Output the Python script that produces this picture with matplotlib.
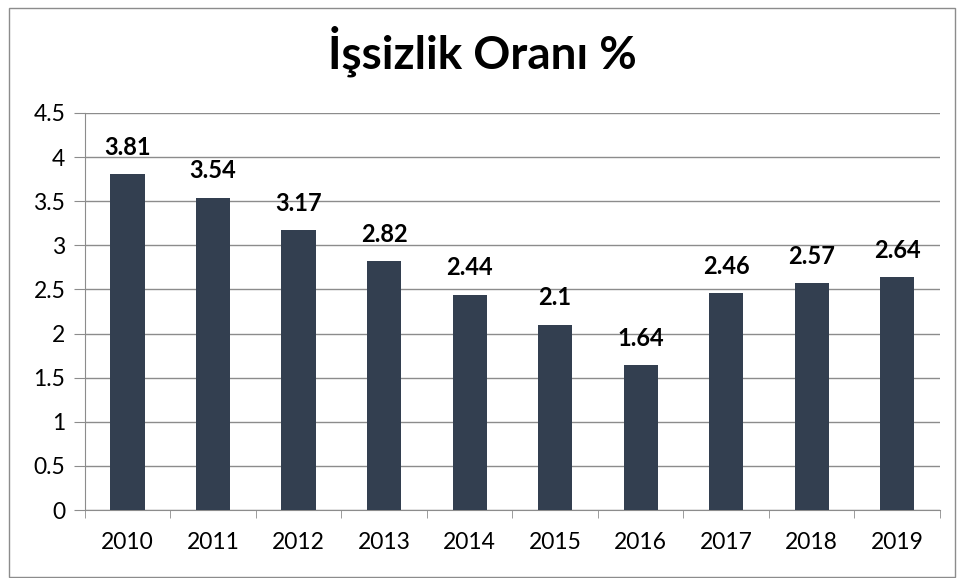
import matplotlib.pyplot as plt
from matplotlib.patches import Rectangle

years = ['2010', '2011', '2012', '2013', '2014', '2015', '2016', '2017', '2018', '2019']
rates = [3.81, 3.54, 3.17, 2.82, 2.44, 2.1, 1.64, 2.46, 2.57, 2.64]
labels = ['3.81', '3.54', '3.17', '2.82', '2.44', '2.1', '1.64', '2.46', '2.57', '2.64']
yticks = [0, 0.5, 1, 1.5, 2, 2.5, 3, 3.5, 4, 4.5]
ytick_labels = ['0', '0.5', '1', '1.5', '2', '2.5', '3', '3.5', '4', '4.5']

plt.rcParams['font.family'] = ['Lato', 'DejaVu Sans']

fig = plt.figure(figsize=(9.64, 5.78), dpi=100)
ax = fig.add_axes([0.088, 0.1176, 0.887, 0.687])

# Rahmen um das Diagramm
fig.patches.append(Rectangle((0.009, 0.002), 0.982, 0.985, transform=fig.transFigure,
                             fill=False, edgecolor='#8c8c8c', linewidth=1))

x = range(len(years))
ax.bar(x, rates, width=0.4, color='#333f50', zorder=3)

# Werte über den Balken
for i, v in enumerate(rates):
    ax.annotate(labels[i], (i, v), xytext=(0, 11), textcoords='offset points',
                ha='center', va='bottom', fontsize=17, fontweight='bold')

ax.set_xlim(-0.5, len(years) - 0.5)
ax.set_ylim(0, 4.5)
ax.set_yticks(yticks)
ax.set_yticklabels(ytick_labels, fontsize=16.5)
ax.set_xticks(list(x))
ax.set_xticklabels(years, fontsize=16.5)
ax.set_xticks([i - 0.5 for i in range(len(years) + 1)], minor=True)
ax.tick_params(axis='x', which='major', length=0, pad=16)
ax.tick_params(axis='x', which='minor', length=6, color='#8c8c8c', direction='out')
ax.tick_params(axis='y', length=8, color='#8c8c8c', pad=6)

ax.grid(axis='y', color='#8c8c8c', linewidth=1, zorder=0)
for s in ['top', 'right']:
    ax.spines[s].set_visible(False)
ax.spines['left'].set_color('#8c8c8c')
ax.spines['bottom'].set_color('#8c8c8c')

fig.text(0.5, 0.912, 'İşsizlik Oranı %', ha='center', va='center', fontsize=33, fontweight='bold')

fig.savefig('out.png', dpi=100)
